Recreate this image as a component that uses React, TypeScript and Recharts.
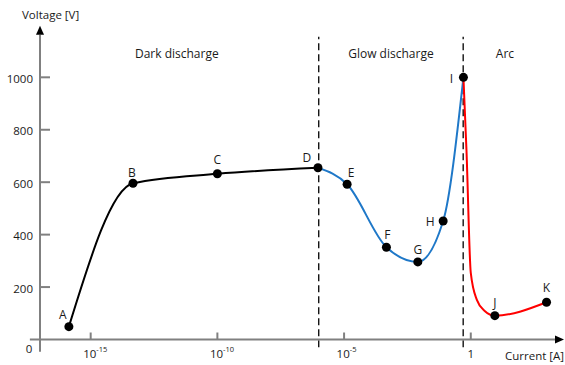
import React from 'react';
import { ComposedChart, Line, Scatter, XAxis, YAxis, ReferenceLine, ReferenceDot } from 'recharts';

// x = log10(current [A]), y = voltage [V]
const darkLog = [-15.86, -13.33, -10.0, -6.03];
const darkVolt = [49, 596, 632, 655];

const glowLog = [-6.03, -4.88, -3.33, -2.09, -1.09, -0.29];
const glowVolt = [655, 592, 352, 296, 452, 1000];

const arcLog = [-0.29, -0.17, 0.0, 0.24, 0.55, 0.95, 2.99];
const arcVolt = [1000, 723, 254, 151, 109, 91, 142];

const pointNames = ['A', 'B', 'C', 'D', 'E', 'F', 'G', 'H', 'I', 'J', 'K'];
const pointLog = [-15.86, -13.33, -10.0, -6.03, -4.88, -3.33, -2.09, -1.09, -0.29, 0.95, 2.99];
const pointVolt = [49, 596, 632, 655, 592, 352, 296, 452, 1000, 91, 142];

const xTicks = [-15, -10, -5, 0];
const yTicks = [0, 200, 400, 600, 800, 1000];
const boundaries = [-6, -0.3];
const regionNames = ['Dark discharge', 'Glow discharge', 'Arc'];
const regionMids = [-11.6, -3.15, 1.35];

const FONT = '"Open Sans", sans-serif';
const TEXT = '#1a1a1a';
const AXIS = '#808080';

const toRows = (xs: number[], ys: number[]) => xs.map((x, i) => ({ x, y: ys[i] }));
const darkData = toRows(darkLog, darkVolt);
const glowData = toRows(glowLog, glowVolt);
const arcData = toRows(arcLog, arcVolt);
const pointData = pointNames.map((name, i) => ({ name, x: pointLog[i], y: pointVolt[i] }));

// where each letter sits relative to its dot
const labelOffset: Record<string, [number, number]> = {
  A: [-6, -12], B: [-1, -11], C: [0, -14], D: [-11, -10], E: [4, -12], F: [1, -13],
  G: [0, -12], H: [-13, 1], I: [-12, 1], J: [0, -13], K: [0, -15],
};

const ArrowAxis = (props: any) => {
  const { x1, y1, x2, y2 } = props;
  const dx = x2 - x1;
  const dy = y2 - y1;
  const len = Math.hypot(dx, dy) || 1;
  const ux = dx / len;
  const uy = dy / len;
  const head = 9;
  const half = 4;
  const bx = x2 - ux * head;
  const by = y2 - uy * head;
  return (
    <g>
      <line x1={x1} y1={y1} x2={bx} y2={by} stroke={AXIS} strokeWidth={2} />
      <polygon
        points={`${x2},${y2} ${bx - uy * half},${by + ux * half} ${bx + uy * half},${by - ux * half}`}
        fill="#000"
      />
    </g>
  );
};

const YTick = (props: any) => {
  const { x, y, payload } = props;
  const axisX = x + 7;
  if (payload.value === 0) {
    return (
      <text x={x - 4} y={y + 9} textAnchor="middle" dominantBaseline="central" fontSize={11.5} fill={TEXT} fontFamily={FONT}>
        0
      </text>
    );
  }
  return (
    <g>
      <line x1={axisX} x2={axisX + 10} y1={y} y2={y} stroke={AXIS} strokeWidth={2} />
      <text x={x} y={y + 1} textAnchor="end" dominantBaseline="central" fontSize={11.5} fill={TEXT} fontFamily={FONT}>
        {payload.value}
      </text>
    </g>
  );
};

const XTick = (props: any) => {
  const { x, y, payload } = props;
  const axisY = y - 12;
  const v = payload.value;
  return (
    <g>
      <line x1={x} x2={x} y1={axisY} y2={axisY - 7} stroke={AXIS} strokeWidth={2} />
      {v === 0 ? (
        <text x={x} y={axisY + 18} textAnchor="middle" fontSize={11.5} fill={TEXT} fontFamily={FONT}>
          1
        </text>
      ) : (
        <text x={x - 7.5} y={axisY + 18} textAnchor="start" fontSize={11.5} fill={TEXT} fontFamily={FONT}>
          10
          <tspan dy={-6} fontSize={7.5}>{v}</tspan>
        </text>
      )}
    </g>
  );
};

const PointMark = (props: any) => {
  const { cx, cy, payload } = props;
  const [ox, oy] = labelOffset[payload.name] || [0, -12];
  return (
    <g>
      <circle cx={cx} cy={cy} r={4.5} fill="#000" />
      <text x={cx + ox} y={cy + oy} textAnchor="middle" dominantBaseline="central" fontSize={12} fill={TEXT} fontFamily={FONT}>
        {payload.name}
      </text>
    </g>
  );
};

export default function App() {
  return (
    <div style={{ position: 'absolute', left: 0, top: 0, background: '#fff' }}>
      <ComposedChart width={565} height={365} margin={{ top: 27.5, right: 3, bottom: 0, left: 0 }}>
        <XAxis
          type="number"
          dataKey="x"
          domain={[-17, 3.6]}
          ticks={xTicks}
          allowDataOverflow
          height={25.5}
          axisLine={false}
          tickLine={false}
          tickSize={0}
          tickMargin={12}
          tick={<XTick />}
          label={{
            content: () => (
              <text x={505} y={360} fontSize={11.5} fill={TEXT} fontFamily={FONT}>
                Current [A]
              </text>
            ),
          }}
        />
        <YAxis
          type="number"
          dataKey="y"
          domain={[0, 1190]}
          ticks={yTicks}
          allowDataOverflow
          width={40}
          axisLine={false}
          tickLine={false}
          tickSize={0}
          tickMargin={7}
          tick={<YTick />}
          label={{
            content: () => (
              <text x={22} y={19} fontSize={11.5} fill={TEXT} fontFamily={FONT}>
                Voltage [V]
              </text>
            ),
          }}
        />
        {boundaries.map((b) => (
          <ReferenceLine
            key={b}
            segment={[{ x: b, y: -30 }, { x: b, y: 1155 }]}
            ifOverflow="visible"
            stroke="#000"
            strokeWidth={1.3}
            strokeDasharray="7 4"
          />
        ))}
        <ReferenceLine segment={[{ x: -17.4, y: 0 }, { x: 3.68, y: 0 }]} ifOverflow="visible" shape={ArrowAxis} />
        <ReferenceLine segment={[{ x: -17, y: -47 }, { x: -17, y: 1197 }]} ifOverflow="visible" shape={ArrowAxis} />
        {regionNames.map((name, i) => (
          <ReferenceDot
            key={name}
            x={regionMids[i]}
            y={1090}
            r={0}
            fill="none"
            stroke="none"
            label={{ value: name, position: 'center', fontSize: 12, fill: TEXT, fontFamily: FONT }}
          />
        ))}
        <Line data={darkData} dataKey="y" type="monotone" stroke="#000" strokeWidth={2} dot={false} isAnimationActive={false} />
        <Line data={glowData} dataKey="y" type="monotone" stroke="#1f78c8" strokeWidth={2} dot={false} isAnimationActive={false} />
        <Line data={arcData} dataKey="y" type="monotone" stroke="#ff0000" strokeWidth={2} dot={false} isAnimationActive={false} />
        <Scatter data={pointData} dataKey="y" shape={<PointMark />} isAnimationActive={false} />
      </ComposedChart>
    </div>
  );
}
